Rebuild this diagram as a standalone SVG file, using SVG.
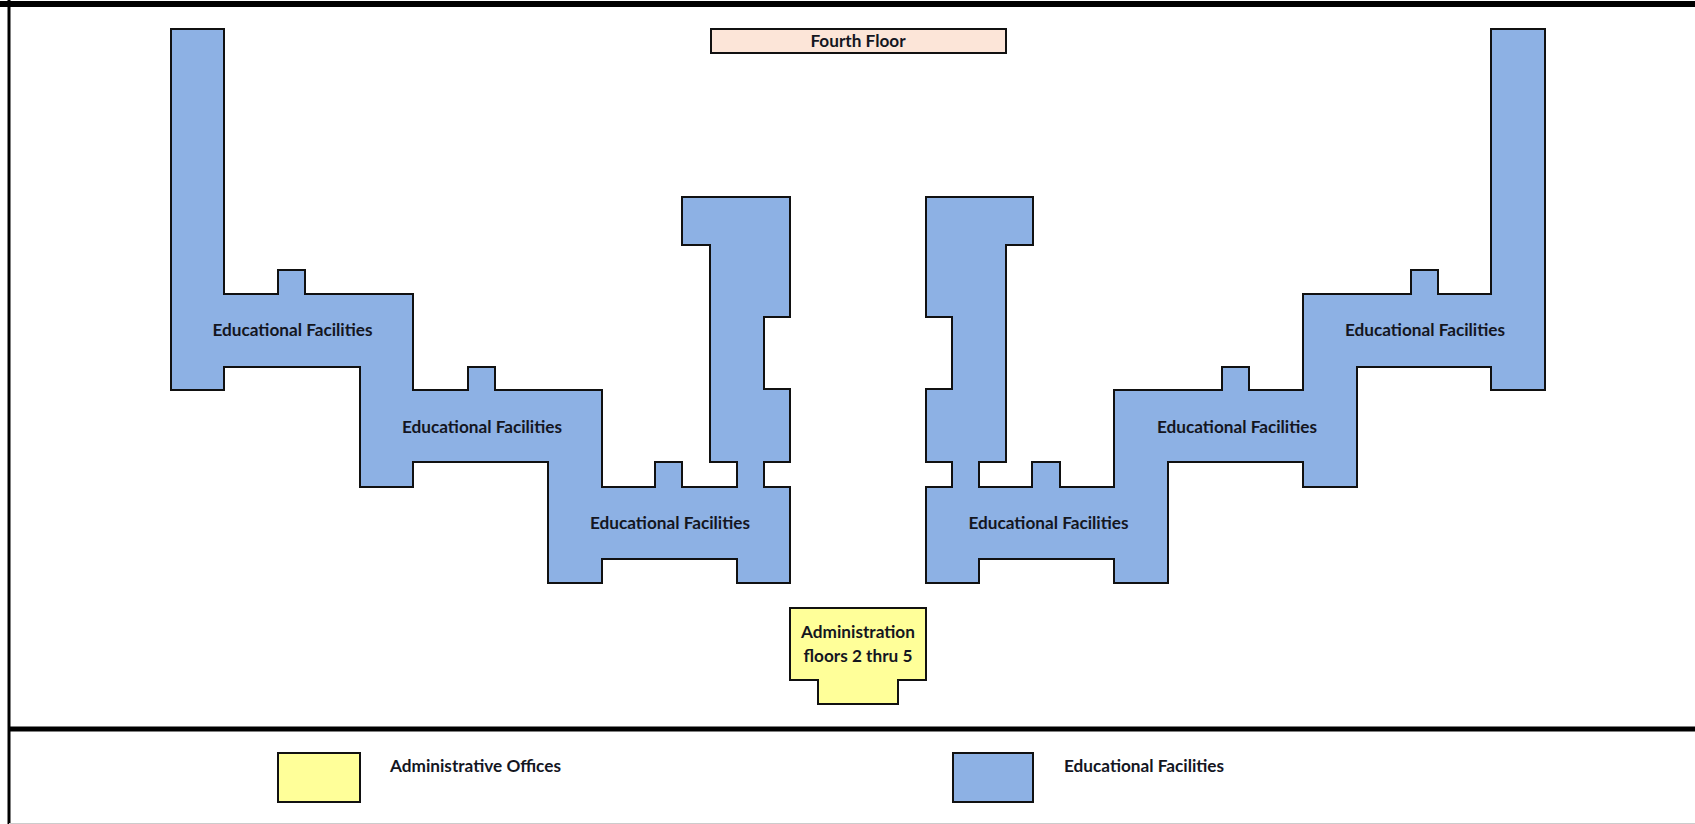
<svg xmlns="http://www.w3.org/2000/svg" width="1695" height="824" viewBox="0 0 1695 824">
<style>
.edu{fill:#8db1e4;stroke:#111;stroke-width:2;stroke-linejoin:miter}
.adm{fill:#ffff99;stroke:#111;stroke-width:2}
.flr{fill:#fce5d8;stroke:#111;stroke-width:2}
.frame{stroke:#000;fill:none}
text{font-family:Lato,"Open Sans","Liberation Sans",sans-serif;font-weight:700;font-size:17.2px;fill:#14161f;text-anchor:middle;dominant-baseline:central}
.lg{text-anchor:start}
</style>
<rect width="1695" height="824" fill="#fff"/>
<g id="frame">
<path class="frame" stroke-width="6" d="M0 4H1695"/>
<path class="frame" stroke-width="5" d="M9 729H1695"/>
<path class="frame" stroke-width="3" d="M9 0V824"/>
<path d="M9 823.5H1695" stroke="#ccc" stroke-width="1"/>
</g>
<g id="west-wing">
<path class="edu" d="M171 29H224V294H278V270H305V294H413V390H468V367H495V390H602V487H655V462H682V487H737V462H710V245H682V197H790V317H764V389H790V462H764V487H790V583H737V559H602V583H548V462H413V487H360V367H224V390H171Z"/>
<text x="292.5" y="329.5">Educational Facilities</text>
<text x="482" y="426">Educational Facilities</text>
<text x="670" y="522">Educational Facilities</text>
</g>
<g id="east-wing">
<path class="edu" d="M926 197H1033V245H1006V462H979V487H1032V462H1060V487H1114V390H1222V367H1249V390H1303V294H1411V270H1438V294H1491V29H1545V390H1491V367H1357V487H1303V462H1168V583H1114V559H979V583H926V487H952V462H926V389H952V317H926Z"/>
<text x="1048.5" y="522">Educational Facilities</text>
<text x="1237" y="426">Educational Facilities</text>
<text x="1425" y="329.5">Educational Facilities</text>
</g>
<g id="floor-label">
<rect class="flr" x="711" y="29" width="295" height="24"/>
<text x="858" y="40">Fourth Floor</text>
</g>
<g id="administration">
<path class="adm" d="M790 608H926V680H898V704H818V680H790Z"/>
<text x="858" y="631">Administration</text>
<text x="858" y="655.5">floors 2 thru 5</text>
</g>
<g id="legend-admin">
<rect class="adm" x="278" y="753" width="82" height="49"/>
<text class="lg" x="390" y="765">Administrative Offices</text>
</g>
<g id="legend-edu">
<rect class="edu" x="953" y="753" width="80" height="49"/>
<text class="lg" x="1064" y="765">Educational Facilities</text>
</g>
<g id="connectors"></g>
</svg>
